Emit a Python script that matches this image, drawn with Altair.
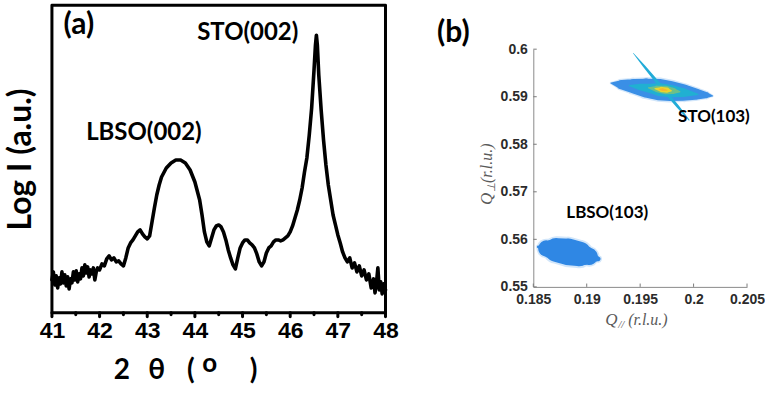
import altair as alt
import pandas as pd

# ---------------- Panel (a): XRD 2theta scan ----------------
two_theta = [41.00, 41.03, 41.06, 41.09, 41.12, 41.15, 41.18, 41.21, 41.24, 41.27,
             41.30, 41.33, 41.36, 41.39, 41.42, 41.45, 41.48, 41.51, 41.54, 41.57,
             41.60, 41.63, 41.66, 41.69, 41.72, 41.75, 41.78, 41.81, 41.84, 41.87,
             41.90, 41.93, 41.96, 42.00, 42.05, 42.10, 42.15, 42.20, 42.25, 42.30,
             42.35, 42.40, 42.45, 42.50, 42.55, 42.60, 42.65, 42.70, 42.75, 42.80,
             42.85, 42.90, 42.95, 43.00, 43.05, 43.10, 43.15, 43.20, 43.25, 43.30,
             43.40, 43.50, 43.60, 43.70, 43.80, 43.90, 44.00, 44.10, 44.15, 44.20,
             44.25, 44.30, 44.35, 44.40, 44.45, 44.50, 44.55, 44.60, 44.65, 44.70,
             44.75, 44.80, 44.85, 44.90, 44.95, 45.00, 45.05, 45.10, 45.15, 45.20,
             45.25, 45.30, 45.35, 45.40, 45.45, 45.50, 45.55, 45.60, 45.65, 45.70,
             45.75, 45.80, 45.85, 45.90, 45.95, 46.00, 46.05, 46.10, 46.15, 46.20,
             46.25, 46.30, 46.35, 46.40, 46.45, 46.50, 46.53, 46.55, 46.57, 46.60,
             46.65, 46.70, 46.75, 46.80, 46.85, 46.90, 46.95, 47.00, 47.05, 47.10,
             47.15, 47.20, 47.25, 47.30, 47.35, 47.40, 47.45, 47.50, 47.55, 47.60,
             47.65, 47.70, 47.75, 47.78, 47.81, 47.84, 47.87, 47.90, 47.93, 47.96,
             48.00]
log_intensity = [33, 41, 28, 37, 25, 35, 29, 41, 30, 38,
                 27, 36, 24, 34, 30, 41, 33, 42, 31, 39,
                 34, 45, 37, 48, 40, 46, 36, 43, 39, 45,
                 33, 41, 45, 43, 49, 47, 54, 57, 53, 55,
                 51, 52, 49, 47, 55, 65, 70, 73, 77, 81,
                 83, 79, 76, 74, 77, 91, 105, 118, 128, 136,
                 145, 150, 153, 153, 150, 143, 131, 113, 98, 81,
                 71, 67, 75, 83, 87, 88, 86, 81, 73, 63,
                 55, 48, 44, 55, 65, 70, 73, 73, 70, 68,
                 65, 59, 51, 47, 51, 60, 65, 67, 71, 73,
                 73, 72, 73, 75, 77, 81, 87, 95, 103, 113,
                 125, 141, 155, 178, 205, 243, 268, 278, 268, 238,
                 203, 173, 148, 128, 113, 98, 88, 78, 70, 61,
                 55, 51, 55, 45, 50, 41, 47, 37, 43, 33,
                 39, 25, 34, 20, 30, 45, 23, 31, 19, 29,
                 23]
major_ticks_a = [41, 42, 43, 44, 45, 46, 47, 48]
minor_ticks_a = [41.5, 42.5, 43.5, 44.5, 45.5, 46.5, 47.5]
peak_names_a = ["LBSO(002)", "STO(002)"]
peak_label_x_a = [42.93, 45.11]
peak_label_y_a = [180, 280]
# plot box corners (2theta, log I), walked in order
box_tt = [41, 41, 48, 48, 41]
box_li = [0, 308, 308, 0, 0]

# ---------------- Panel (b): reciprocal space map ----------------
sto_qx = [0.19229, 0.19322, 0.19435, 0.19556, 0.19678, 0.19790, 0.19911, 0.20023, 0.20117, 0.20175]
sto_qz = [0.59286, 0.59254, 0.59223, 0.59181, 0.59149, 0.59118, 0.59086, 0.59055, 0.59034, 0.59018]
sto_spread_outer = [0.0003, 0.0020, 0.0030, 0.0040, 0.0045, 0.0042, 0.0034, 0.0024, 0.0013, 0.0003]
sto_fringe = [0.0006, 0.0025, 0.0036, 0.0046, 0.0051, 0.0048, 0.0040, 0.0029, 0.0018, 0.0006]

sto_mid_qx = [0.19400, 0.19500, 0.19620, 0.19678, 0.19790, 0.19911, 0.20040]
sto_mid_qz = [0.59233, 0.59204, 0.59170, 0.59149, 0.59118, 0.59086, 0.59050]
sto_mid_spread = [0.0003, 0.0014, 0.0022, 0.0027, 0.0026, 0.0018, 0.0003]

sto_green_qx = [0.1958, 0.1966, 0.1974, 0.1981, 0.1987]
sto_green_qz = [0.59187, 0.59164, 0.59141, 0.59121, 0.59105]
sto_green_spread = [0.0003, 0.0014, 0.0018, 0.0013, 0.0003]

sto_yellow_qx = [0.1964, 0.1970, 0.1975, 0.1979]
sto_yellow_qz = [0.59170, 0.59152, 0.59138, 0.59127]
sto_yellow_spread = [0.0003, 0.0011, 0.0011, 0.0003]

sto_core_qx = [0.1968, 0.1971, 0.1975]
sto_core_qz = [0.59158, 0.59149, 0.59138]
sto_core_spread = [0.0002, 0.0006, 0.0002]

streak_qx = [0.19435, 0.19539, 0.19670, 0.19722, 0.19853, 0.19958]
streak_qz = [0.59916, 0.59634, 0.59282, 0.59141, 0.58790, 0.58508]
streak_spread = [0.0001, 0.0005, 0.0007, 0.0007, 0.0006, 0.0002]

lbso_qx = [0.18547, 0.18621, 0.18715, 0.18827, 0.18930, 0.19023, 0.19107]
lbso_qz = [0.55840, 0.55809, 0.55777, 0.55735, 0.55693, 0.55641, 0.55588]
lbso_spread = [0.0006, 0.0034, 0.0050, 0.0056, 0.0052, 0.0036, 0.0010]
lbso_fringe = [0.0010, 0.0041, 0.0058, 0.0064, 0.0060, 0.0043, 0.0016]

qx_ticks = [0.185, 0.19, 0.195, 0.2, 0.205]
qz_ticks = [0.55, 0.56, 0.57, 0.58, 0.59, 0.6]
spot_names = ["STO(103)", "LBSO(103)"]
spot_label_qx = [0.19855, 0.18809]
spot_label_qz = [0.58571, 0.56555]

# ================= Build panel (a) =================
W_A, H_A = 334, 308
TXT_FONT = "Lato"

df_a = pd.DataFrame({"tt": two_theta, "li": log_intensity})
xs_a = alt.Scale(domain=[41, 48], nice=False, zero=False)
ys_a = alt.Scale(domain=[0, 308], nice=False, zero=False)
ax_a = alt.Axis(values=major_ticks_a, format="d", grid=False, domain=False,
                ticks=False, labelFlush=False,
                labelFont="Liberation Sans", labelFontWeight="bold", labelFontSize=23,
                labelColor="black", labelPadding=7, title=None)
ay_a = alt.Axis(labels=False, ticks=False, grid=False, domain=False,
                title="Log I (a.u.)", titleFont=TXT_FONT, titleFontWeight="bold",
                titleFontSize=32, titleColor="black", titlePadding=14)

curve = alt.Chart(df_a).mark_line(color="black", strokeWidth=3.6,
                                  strokeJoin="round", strokeCap="round").encode(
    x=alt.X("tt:Q", scale=xs_a, axis=ax_a),
    y=alt.Y("li:Q", scale=ys_a, axis=ay_a),
)
box_a = alt.Chart(pd.DataFrame({"tt": box_tt, "li": box_li,
                                "k": list(range(len(box_tt)))})).mark_line(
    color="black", strokeWidth=3, strokeJoin="round", strokeCap="round").encode(
    x=alt.X("tt:Q", scale=xs_a, axis=ax_a),
    y=alt.Y("li:Q", scale=ys_a, axis=ay_a),
    order="k:Q")

# tick marks below the frame: each tick is a short segment (tick, 0) -> (tick, -len)
tick_rows = []
for t in major_ticks_a:
    tick_rows += [{"tt": t, "li": 0, "g": f"M{t}"}, {"tt": t, "li": -4, "g": f"M{t}"}]
for t in minor_ticks_a:
    tick_rows += [{"tt": t, "li": 0, "g": f"m{t}"}, {"tt": t, "li": -2, "g": f"m{t}"}]
ticks_a = alt.Chart(pd.DataFrame(tick_rows)).mark_line(
    color="black", strokeWidth=3, strokeCap="round").encode(
    x=alt.X("tt:Q", scale=xs_a, axis=ax_a),
    y=alt.Y("li:Q", scale=ys_a, axis=ay_a),
    detail="g:N")

labels_a = alt.Chart(pd.DataFrame({"t": peak_names_a, "x": peak_label_x_a,
                                   "y": peak_label_y_a})).mark_text(
    font=TXT_FONT, fontWeight="bold", fontSize=24, color="black",
    align="center", baseline="middle").encode(
    x=alt.X("x:Q", scale=xs_a, axis=ax_a), y=alt.Y("y:Q", scale=ys_a, axis=ay_a),
    text="t:N")


def text_piece(text, x, y, size, font=TXT_FONT, weight="bold", color="black"):
    return alt.Chart(alt.Data(values=[{"t": text}])).mark_text(
        font=font, fontWeight=weight, fontSize=size, color=color,
        align="center", baseline="middle").encode(
        x=alt.value(x), y=alt.value(y), text="t:N")


tag_a = text_piece("(a)", 27, 20, 30)
xtitle_a = [
    text_piece("2", 70, 366, 28),
    text_piece("θ", 105, 366, 28),
    text_piece("(", 139, 366, 28),
    text_piece("o", 158, 359, 26),
    text_piece(")", 202, 366, 28),
]

panel_a = alt.layer(curve, box_a, ticks_a, labels_a, tag_a, *xtitle_a).properties(
    width=W_A, height=H_A)

# ================= Build panel (b) =================
W_B, H_B = 214, 282
xs_b = alt.Scale(domain=[0.185, 0.205], nice=False, zero=False)
ys_b = alt.Scale(domain=[0.55, 0.6], range=[H_B, 44], nice=False, zero=False)
size_b = alt.Scale(domain=[0, 0.05], range=[0, 238])
ax_b = alt.Axis(values=qx_ticks, format="~g", grid=False, ticks=False,
                domainColor="#8a8a8a", domainWidth=1, labelFlush=False,
                labelFont="Liberation Sans", labelFontWeight="bold", labelFontSize=14,
                labelColor="#2b2b2b", labelPadding=6, title=None)
ay_b = alt.Axis(values=qz_ticks, format="~g", grid=False, ticks=False,
                domainColor="#8a8a8a", domainWidth=1, labelFlush=False,
                labelFont="Liberation Sans", labelFontWeight="bold", labelFontSize=14,
                labelColor="#2b2b2b", labelPadding=6, title=None)


def trail(qx, qz, spread, color, opacity=1.0):
    df = pd.DataFrame({"qx": qx, "qz": qz, "s": spread})
    return alt.Chart(df).mark_trail(color=color, opacity=opacity).encode(
        x=alt.X("qx:Q", scale=xs_b, axis=ax_b),
        y=alt.Y("qz:Q", scale=ys_b, axis=ay_b),
        size=alt.Size("s:Q", scale=size_b, legend=None),
    )


layers_b = [
    trail(lbso_qx, lbso_qz, lbso_fringe, "#7fb6f1", 0.35),
    trail(lbso_qx, lbso_qz, lbso_spread, "#2f87e4"),
    trail(sto_qx, sto_qz, sto_fringe, "#7fb6f1", 0.35),
    trail(sto_qx, sto_qz, sto_spread_outer, "#3a8fe6"),
    trail(streak_qx, streak_qz, streak_spread, "#22acd8"),
    trail(sto_mid_qx, sto_mid_qz, sto_mid_spread, "#20b0d2"),
    trail(sto_green_qx, sto_green_qz, sto_green_spread, "#6cc08a"),
    trail(sto_yellow_qx, sto_yellow_qz, sto_yellow_spread, "#ead52e"),
    trail(sto_core_qx, sto_core_qz, sto_core_spread, "#f8b52f"),
]

# inward tick marks of panel (b), drawn as short segments from the axis line
tickb_rows = []
for t in qx_ticks:
    tickb_rows += [{"qx": t, "qz": 0.55, "g": f"x{t}"}, {"qx": t, "qz": 0.5507, "g": f"x{t}"}]
for t in qz_ticks:
    tickb_rows += [{"qx": 0.185, "qz": t, "g": f"y{t}"}, {"qx": 0.18532, "qz": t, "g": f"y{t}"}]
ticks_b = alt.Chart(pd.DataFrame(tickb_rows)).mark_line(
    color="#7a7a7a", strokeWidth=1).encode(
    x=alt.X("qx:Q", scale=xs_b, axis=ax_b),
    y=alt.Y("qz:Q", scale=ys_b, axis=ay_b),
    detail="g:N")

labels_b = alt.Chart(pd.DataFrame({"t": spot_names, "x": spot_label_qx,
                                   "y": spot_label_qz})).mark_text(
    font=TXT_FONT, fontWeight="bold", fontSize=17, color="black",
    align="left", baseline="middle").encode(
    x=alt.X("x:Q", scale=xs_b, axis=ax_b), y=alt.Y("y:Q", scale=ys_b, axis=ay_b),
    text="t:N")

tag_b = text_piece("(b)", -80, 28, 30)

SERIF = "Liberation Serif"
TCOL = "#5a5a5a"


def title_piece(text, x, y, size, angle=0):
    kw = dict(font=SERIF, fontStyle="italic", fontSize=size, color=TCOL,
              align="left", baseline="middle")
    if angle:
        kw["angle"] = angle
    return alt.Chart(alt.Data(values=[{"t": text}])).mark_text(**kw).encode(
        x=alt.value(x), y=alt.value(y), text="t:N")


xtitle_b = [
    title_piece("Q", 72, 315, 17),
    title_piece("//", 85, 320, 11),
    title_piece("(r.l.u.)", 95, 315, 16),
]
ytitle_b = [
    title_piece("Q", -46, 200, 17, 270),
    title_piece("⊥", -41, 187, 11, 270),
    title_piece("(r.l.u.)", -46, 178, 16, 270),
]

panel_b = alt.layer(*layers_b, ticks_b, labels_b, tag_b, *xtitle_b, *ytitle_b).properties(
    width=W_B, height=H_B)

chart = alt.hconcat(panel_a, panel_b, spacing=148, bounds="flush").configure_view(
    stroke=None).properties(
    padding={"left": 5, "top": 3, "right": 0, "bottom": 0},
    background="white")

chart.save("out.html", embed_options={"renderer": "svg", "actions": False})
